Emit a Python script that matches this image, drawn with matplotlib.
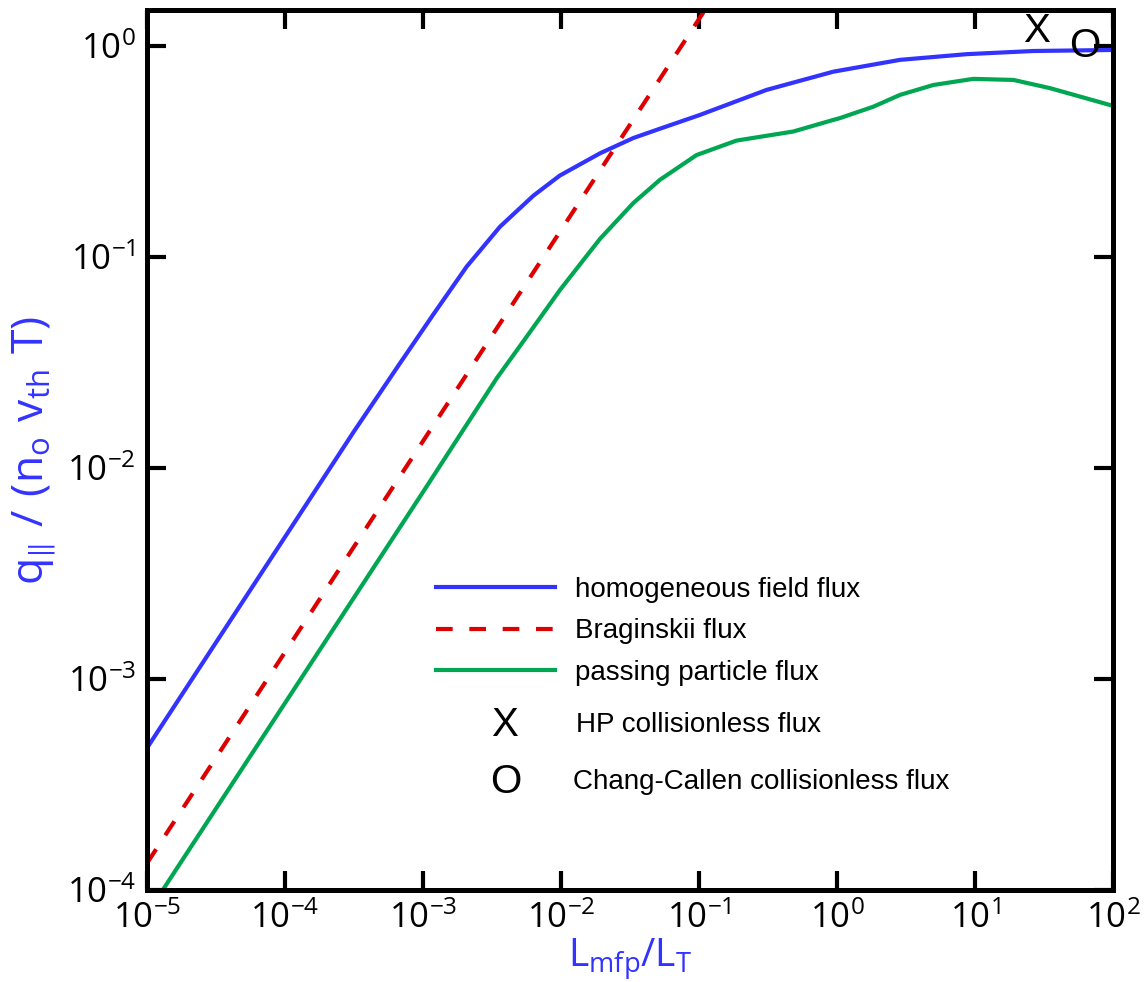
import matplotlib
matplotlib.use("Agg")
import matplotlib.pyplot as plt

# values (log-log)
homog_x = [1e-5, 1e-4, 3.16e-4, 6.8e-4, 1.19e-3, 2.07e-3, 3.61e-3, 6.3e-3, 9.8e-3,
           1.92e-2, 3.34e-2, 5.2e-2, 0.1016, 0.309, 0.94, 2.86, 8.7, 26.3, 100]
homog_y = [4.71e-4, 4.71e-3, 0.0149, 0.0313, 0.0535, 0.0899, 0.139, 0.195, 0.243,
           0.31, 0.366, 0.405, 0.471, 0.619, 0.755, 0.859, 0.914, 0.946, 0.957]

brag_x = [1e-5, 1e-4, 1e-3, 1e-2, 1e-1, 1e0]
brag_y = [1.34e-4, 1.34e-3, 1.34e-2, 0.134, 1.34, 13.4]

pass_x = [1e-5, 1e-4, 1e-3, 3.42e-3, 5.64e-3, 9.84e-3, 1.92e-2, 3.34e-2, 5.21e-2,
          9.6e-2, 0.187, 0.482, 0.94, 1.05, 1.83, 2.86, 4.99, 9.7, 19.0, 34.9, 100]
pass_y = [7.69e-5, 7.69e-4, 7.69e-3, 0.0266, 0.0419, 0.0698, 0.122, 0.180, 0.232,
          0.304, 0.356, 0.393, 0.446, 0.455, 0.515, 0.586, 0.653, 0.698, 0.690, 0.631, 0.520]

hp_x, hp_y = 28.0, 1.18
cc_x, cc_y = 62.7, 1.0

labels = ["homogeneous field flux", "Braginskii flux", "passing particle flux"]
marker_labels = ["HP collisionless flux", "Chang-Callen collisionless flux"]

BLUE = "#3333ff"
RED = "#dd0000"
GREEN = "#00a651"
TICK_FONT = ["Open Sans", "DejaVu Sans"]
TEXT_FONT = ["Liberation Sans", "DejaVu Sans"]

plt.rcParams["mathtext.fontset"] = "custom"
plt.rcParams["mathtext.rm"] = "Open Sans"
plt.rcParams["mathtext.it"] = "Open Sans"
plt.rcParams["font.family"] = TICK_FONT
plt.rcParams["axes.unicode_minus"] = False

fig = plt.figure(figsize=(11.44, 9.82), dpi=100)
ax = fig.add_axes([147 / 1144, 1 - 890 / 982, 966 / 1144, 880 / 982])

ax.plot(homog_x, homog_y, color=BLUE, lw=3, label=labels[0])
ax.plot(brag_x, brag_y, color=RED, lw=3, dashes=(4, 4), label=labels[1])
ax.plot(pass_x, pass_y, color=GREEN, lw=3, label=labels[2])

ax.set_xscale("log")
ax.set_yscale("log")
ax.set_xlim(1e-5, 1e2)
ax.set_ylim(1e-4, 1.48)
ax.minorticks_off()

for s in ax.spines.values():
    s.set_linewidth(3.6)
ax.tick_params(which="major", direction="in", length=14, width=3,
               top=True, right=True, labelsize=25, pad=8)

ax.text(hp_x, hp_y, "X", fontsize=29, family=TEXT_FONT, ha="center", va="center")
ax.text(cc_x, cc_y, "O", fontsize=29, family=TEXT_FONT, ha="center", va="center")

ax.set_xlabel(r"$\mathregular{L_{mfp}/L_T}$", color=BLUE, fontsize=28, labelpad=0)
ax.set_ylabel(r"$\mathregular{q_{\Vert}\ /\ (n_o\ v_{th}\ T)}$", color=BLUE, fontsize=32,
              labelpad=6)

leg = ax.legend(loc="upper left", bbox_to_anchor=(0.299, 0.356), frameon=False,
                prop={"family": TEXT_FONT, "size": 20}, handlelength=4.3,
                handletextpad=0.72, labelspacing=0.56, borderpad=0, borderaxespad=0)

# marker-style legend rows
ax.text(0.3706, 0.1875, "X", transform=ax.transAxes, fontsize=29, family=TEXT_FONT,
        ha="center", va="center")
ax.text(0.444, 0.1875, marker_labels[0], transform=ax.transAxes, fontsize=20,
        family=TEXT_FONT, ha="left", va="center")
ax.text(0.3716, 0.1227, "O", transform=ax.transAxes, fontsize=29, family=TEXT_FONT,
        ha="center", va="center")
ax.text(0.4406, 0.1227, marker_labels[1], transform=ax.transAxes, fontsize=20,
        family=TEXT_FONT, ha="left", va="center")

fig.savefig("out.png", dpi=100)
